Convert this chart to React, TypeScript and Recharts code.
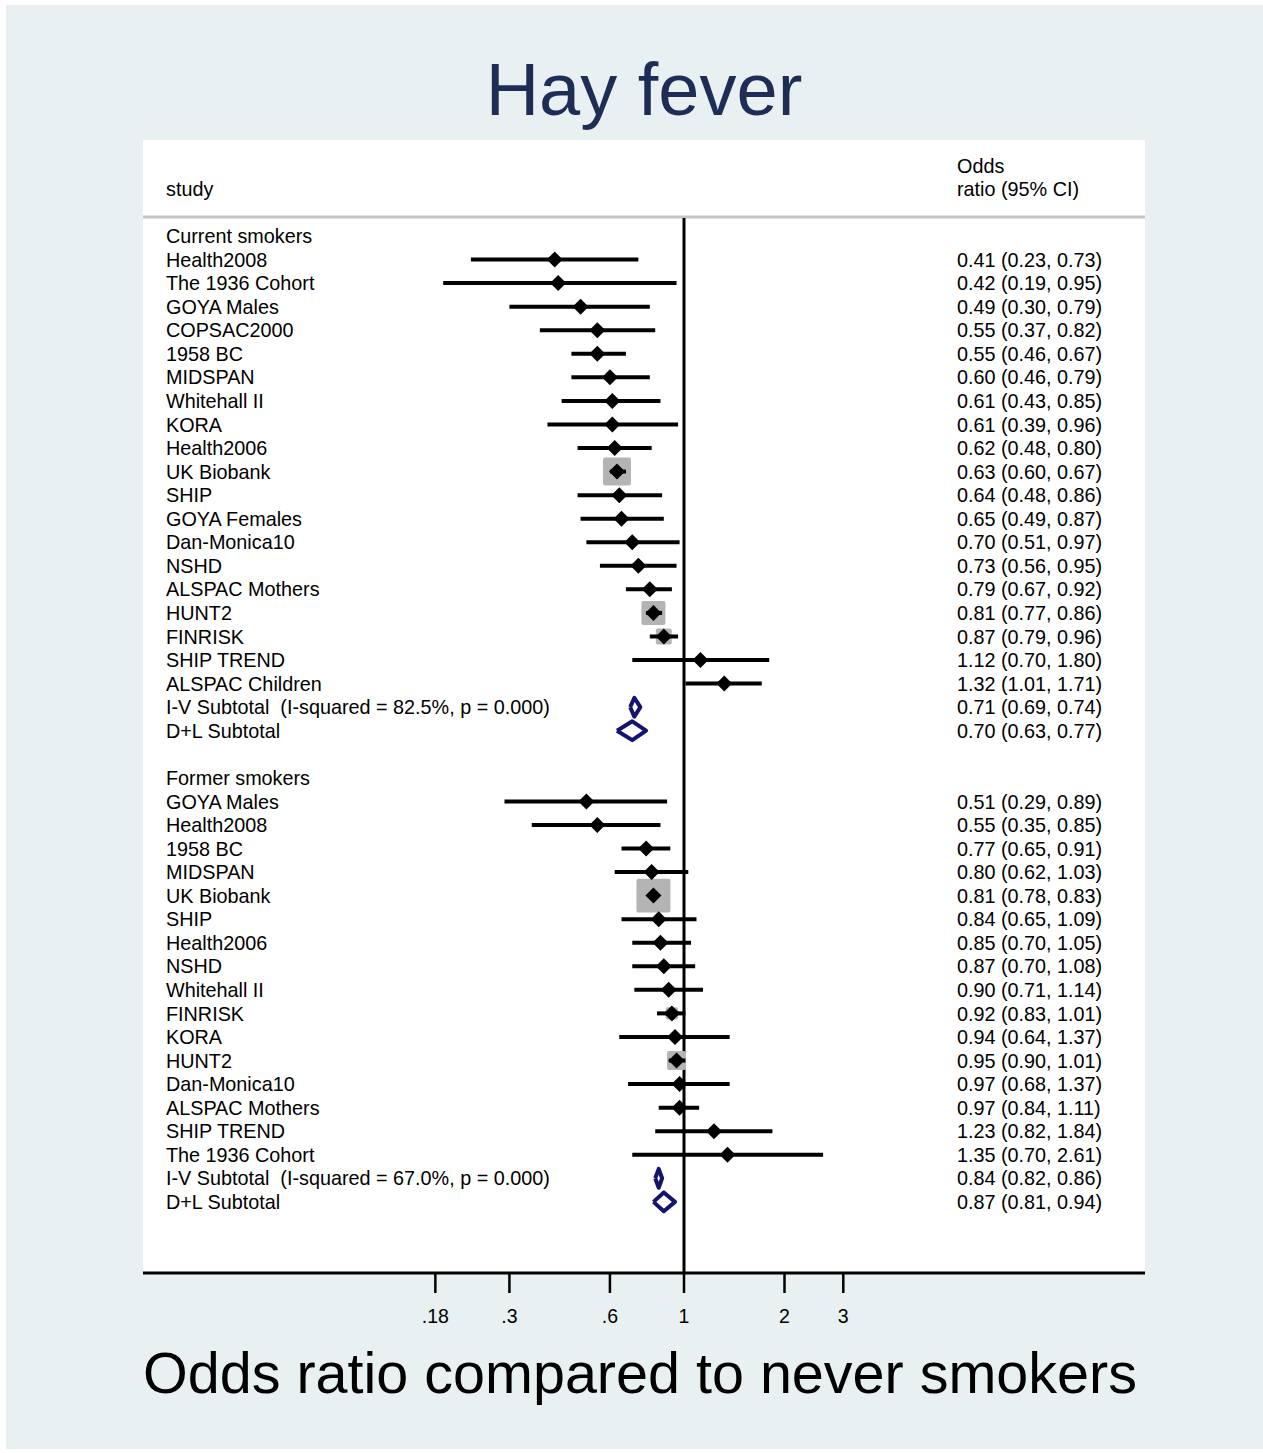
import { ScatterChart, Scatter, XAxis, YAxis, ReferenceLine, CartesianGrid } from 'recharts'

// current smokers
const currentStudies = [
  'Health2008', 'The 1936 Cohort', 'GOYA Males', 'COPSAC2000', '1958 BC', 'MIDSPAN',
  'Whitehall II', 'KORA', 'Health2006', 'UK Biobank', 'SHIP', 'GOYA Females',
  'Dan-Monica10', 'NSHD', 'ALSPAC Mothers', 'HUNT2', 'FINRISK', 'SHIP TREND', 'ALSPAC Children',
]
const currentOR = [0.41, 0.42, 0.49, 0.55, 0.55, 0.60, 0.61, 0.61, 0.62, 0.63, 0.64, 0.65, 0.70, 0.73, 0.79, 0.81, 0.87, 1.12, 1.32]
const currentLo = [0.23, 0.19, 0.30, 0.37, 0.46, 0.46, 0.43, 0.39, 0.48, 0.60, 0.48, 0.49, 0.51, 0.56, 0.67, 0.77, 0.79, 0.70, 1.01]
const currentHi = [0.73, 0.95, 0.79, 0.82, 0.67, 0.79, 0.85, 0.96, 0.80, 0.67, 0.86, 0.87, 0.97, 0.95, 0.92, 0.86, 0.96, 1.80, 1.71]
const currentWeight = [0.3, 0.2, 0.4, 0.7, 2.0, 1.4, 0.9, 0.5, 1.6, 34.4, 1.2, 1.3, 1.0, 1.5, 2.0, 25.3, 11.2, 0.5, 1.5]
const currentIV = [0.71, 0.69, 0.74]
const currentDL = [0.70, 0.63, 0.77]
const currentI2 = '82.5%'

// former smokers
const formerStudies = [
  'GOYA Males', 'Health2008', '1958 BC', 'MIDSPAN', 'UK Biobank', 'SHIP', 'Health2006', 'NSHD',
  'Whitehall II', 'FINRISK', 'KORA', 'HUNT2', 'Dan-Monica10', 'ALSPAC Mothers', 'SHIP TREND', 'The 1936 Cohort',
]
const formerOR = [0.51, 0.55, 0.77, 0.80, 0.81, 0.84, 0.85, 0.87, 0.90, 0.92, 0.94, 0.95, 0.97, 0.97, 1.23, 1.35]
const formerLo = [0.29, 0.35, 0.65, 0.62, 0.78, 0.65, 0.70, 0.70, 0.71, 0.83, 0.64, 0.90, 0.68, 0.84, 0.82, 0.70]
const formerHi = [0.89, 0.85, 0.91, 1.03, 0.83, 1.09, 1.05, 1.08, 1.14, 1.01, 1.37, 1.01, 1.37, 1.11, 1.84, 2.61]
const formerWeight = [0.2, 0.3, 1.8, 0.9, 50.7, 0.9, 1.5, 1.3, 1.1, 6.8, 0.4, 15.8, 0.5, 2.0, 0.4, 0.1]
const formerIV = [0.84, 0.82, 0.86]
const formerDL = [0.87, 0.81, 0.94]
const formerI2 = '67.0%'

const xTicks = [0.18, 0.3, 0.6, 1, 2, 3]

const FONT = '"Liberation Sans", Arial, Helvetica, sans-serif'
const NAVY = '#14146e'
const W = 1263
const H = 1453
const LABEL_X = 166
const EST_X = 957
const BOX_K = 4.77
const DIAMOND_H = 0.4
const Y_MIN = -4.075
const Y_MAX = 44.02

type TextRow = { x: number; y: number; label: string; est?: string }
type Point = { x: number; y: number; w?: number }

const fmt = (v: number) => v.toFixed(2)
const ciText = (v: number[]) => `${fmt(v[0])} (${fmt(v[1])}, ${fmt(v[2])})`

const textRows: TextRow[] = [
  { x: 1, y: -2.97, label: '', est: 'Odds' },
  { x: 1, y: -1.99, label: 'study', est: 'ratio (95% CI)' },
]
const points: Point[] = []
const ciLines: Point[][] = []
const pooled: Point[][] = []

function addGroup(
  start: number, heading: string, studies: string[], or: number[], lo: number[], hi: number[],
  weight: number[], iv: number[], dl: number[], i2: string,
) {
  textRows.push({ x: 1, y: start, label: heading })
  studies.forEach((s, i) => {
    const y = start + 1 + i
    textRows.push({ x: 1, y, label: s, est: ciText([or[i], lo[i], hi[i]]) })
    points.push({ x: or[i], y, w: weight[i] })
    ciLines.push([{ x: lo[i], y }, { x: hi[i], y }])
  })
  const ivRow = start + studies.length + 1
  const dlRow = ivRow + 1
  textRows.push({ x: 1, y: ivRow, label: `I-V Subtotal  (I-squared = ${i2}, p = 0.000)`, est: ciText(iv) })
  textRows.push({ x: 1, y: dlRow, label: 'D+L Subtotal', est: ciText(dl) })
  ;[[iv, ivRow], [dl, dlRow]].forEach(([v, r]) => {
    const vals = v as number[]
    const row = r as number
    pooled.push([
      { x: vals[1], y: row },
      { x: vals[0], y: row - DIAMOND_H },
      { x: vals[2], y: row },
      { x: vals[0], y: row + DIAMOND_H },
      { x: vals[1], y: row },
    ])
  })
}

addGroup(0, 'Current smokers', currentStudies, currentOR, currentLo, currentHi, currentWeight, currentIV, currentDL, currentI2)
addGroup(23, 'Former smokers', formerStudies, formerOR, formerLo, formerHi, formerWeight, formerIV, formerDL, formerI2)

const Empty = () => <g />

const TextShape = (props: any) => {
  const { cy, payload } = props
  return (
    <g fontFamily={FONT} fontSize={19.8} fill="#000">
      {payload.label && (
        <text x={LABEL_X} y={cy} dy="0.36em" style={{ whiteSpace: 'pre' }}>{payload.label}</text>
      )}
      {payload.est && <text x={EST_X} y={cy} dy="0.36em">{payload.est}</text>}
    </g>
  )
}

const BoxShape = (props: any) => {
  const { cx, cy, payload } = props
  const side = BOX_K * Math.sqrt(payload.w)
  return <rect x={cx - side / 2} y={cy - side / 2} width={side} height={side} rx={2} fill="#b4b4b4" />
}

const MarkerShape = (props: any) => {
  const { cx, cy } = props
  const d = 8
  return <polygon points={`${cx - d},${cy} ${cx},${cy - d} ${cx + d},${cy} ${cx},${cy + d}`} fill="#000" />
}

export default function App() {
  return (
    <div style={{ position: 'relative', width: W, height: H, background: '#fff', fontFamily: FONT }}>
      <style>{'body{margin:0}'}</style>
      <div style={{ position: 'absolute', left: 6, top: 5, width: W - 6, height: H - 9, background: '#e8f0f2' }} />
      <div
        style={{
          position: 'absolute', left: 143, top: 53, width: 1002, textAlign: 'center',
          fontSize: 74, lineHeight: '74px', color: '#1e2d55', whiteSpace: 'nowrap',
        }}
      >
        Hay fever
      </div>
      <div style={{ position: 'absolute', left: 0, top: 0 }}>
        <ScatterChart width={W} height={H} margin={{ top: 140, right: 118, bottom: 120, left: 143 }}>
          <CartesianGrid fill="#fff" stroke="none" horizontal={false} vertical={false} />
          <XAxis
            type="number"
            dataKey="x"
            scale="log"
            domain={[0.02397, 24.03]}
            allowDataOverflow
            ticks={xTicks}
            tickFormatter={(v: number) => String(v).replace(/^0\./, '.')}
            height={60}
            tickSize={20}
            tickMargin={16}
            axisLine={{ stroke: '#000', strokeWidth: 3 }}
            tickLine={{ stroke: '#000', strokeWidth: 2.5 }}
            tick={{ fill: '#000', fontSize: 19.5, fontFamily: FONT }}
          />
          <YAxis type="number" dataKey="y" domain={[Y_MIN, Y_MAX]} reversed hide allowDataOverflow />
          <ReferenceLine y={-0.81} stroke="#c4c4c4" strokeWidth={3} />
          <ReferenceLine
            segment={[{ x: 1, y: -0.76 }, { x: 1, y: Y_MAX }]}
            stroke="#000"
            strokeWidth={3}
          />
          <Scatter data={textRows} shape={TextShape} isAnimationActive={false} />
          <Scatter data={points} shape={BoxShape} isAnimationActive={false} />
          {ciLines.map((seg, i) => (
            <Scatter
              key={`ci-${i}`}
              data={seg}
              line={{ stroke: '#000', strokeWidth: 4 }}
              shape={Empty}
              isAnimationActive={false}
            />
          ))}
          <Scatter data={points} shape={MarkerShape} isAnimationActive={false} />
          {pooled.map((pts, i) => (
            <Scatter
              key={`pool-${i}`}
              data={pts}
              line={{ stroke: NAVY, strokeWidth: 4, strokeLinejoin: 'round' }}
              shape={Empty}
              isAnimationActive={false}
            />
          ))}
        </ScatterChart>
      </div>
      <div
        style={{
          position: 'absolute', left: 139, top: 1344, width: 1002, textAlign: 'center',
          fontSize: 57.5, lineHeight: '58px', color: '#000', whiteSpace: 'nowrap',
        }}
      >
        Odds ratio compared to never smokers
      </div>
    </div>
  )
}
